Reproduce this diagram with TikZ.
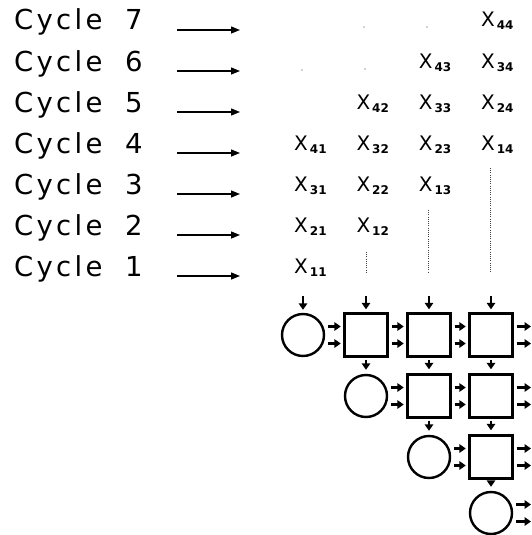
\documentclass[tikz,border=0pt]{standalone}
\usepackage{fontspec}
\setmainfont{DejaVu Sans}
\newfontfamily\cycfont[LetterSpace=12]{DejaVu Sans}
\usetikzlibrary{arrows.meta}
\newcommand\xlab[1]{{\fontsize{20}{20}\selectfont X}\kern2pt\raisebox{-3pt}{\fontsize{12}{12}\selectfont\bfseries #1}}
\newcommand\cyclab[1]{\makebox[111pt][l]{Cycle}#1}
\begin{document}
\begin{tikzpicture}[x=1pt,y=-1pt,
  cyc/.style={font=\cycfont\fontsize{27.5}{27.5}\selectfont, inner sep=0, anchor=base west},
  xl/.style={inner sep=0, anchor=base west},
  cell/.style={draw, line width=2.4pt, inner sep=0},
  sq/.style={cell, rectangle, minimum size=43pt},
  pe/.style={cell, circle, minimum size=42pt},
  arr/.style={line width=2.2pt, -{Triangle[length=6.5pt,width=8.5pt]}},
  carr/.style={line width=1.4pt, -{Triangle[length=9pt,width=7pt]}},
  dots/.style={line width=1pt, dash pattern=on 1pt off 1.2pt, black!75},
  speck/.style={fill=black!35}]
\useasboundingbox (0,0) rectangle (531,535);

% cycle labels and arrows
\foreach \k in {1,...,7}{
  \pgfmathsetmacro\yb{30+41*(7-\k)}
  \node[cyc] (cy\k) at (14,\yb) {\cyclab{\k}};
  \coordinate (as\k) at (177,\yb);
  \coordinate (ae\k) at (240,\yb);
  \draw[carr] (as\k) -- (ae\k);
}

% X labels
\foreach \i in {1,...,4}{\foreach \j in {1,...,4}{
  \pgfmathsetmacro\yb{27+41*(8-\i-\j)}
  \pgfmathsetmacro\xx{294+62.3*(\j-1)}
  \node[xl] (x\i\j) at (\xx,\yb) {\xlab{\i\j}};
}}

% faint specks
\fill[speck] (364,27) circle (0.8);
\fill[speck] (427,27) circle (0.8);
\fill[speck] (302,70) circle (0.8);
\fill[speck] (365,69) circle (0.8);

% dotted columns
\coordinate (d2a) at (366,252); \coordinate (d2b) at (366,272);
\coordinate (d3a) at (428,210); \coordinate (d3b) at (428,272);
\coordinate (d4a) at (490,168); \coordinate (d4b) at (490,272);
\draw[dots] (d2a) -- (d2b);
\draw[dots] (d3a) -- (d3b);
\draw[dots] (d4a) -- (d4b);

% processing array
\node[pe] (c11) at (303,335) {};
\node[sq] (c12) at (366,335) {};
\node[sq] (c13) at (429,335) {};
\node[sq] (c14) at (491,335) {};
\node[pe] (c22) at (366,396) {};
\node[sq] (c23) at (429,396) {};
\node[sq] (c24) at (491,396) {};
\node[pe] (c33) at (429,457) {};
\node[sq] (c34) at (491,457) {};
\node[pe] (c44) at (491,513) {};

% inputs from above
\foreach \c/\x in {11/303,12/366,13/429,14/491}{
  \coordinate (in\c) at (\x,296);
  \draw[arr, shorten >=3pt] (in\c) -- (c\c.north);
}
% vertical flow
\foreach \a/\b in {12/22,13/23,14/24,23/33,24/34,34/44}{
  \draw[arr, shorten <=2pt, shorten >=4pt] (c\a.south) -- (c\b.north);
}
% horizontal flow
\foreach \a/\b in {11/12,12/13,13/14,22/23,23/24,33/34}{
  \draw[arr, shorten <=3pt, shorten >=2.5pt] ([yshift=8.5pt]c\a.east) -- ([yshift=8.5pt]c\b.west);
  \draw[arr, shorten <=3pt, shorten >=2.5pt] ([yshift=-8.5pt]c\a.east) -- ([yshift=-8.5pt]c\b.west);
}
% outputs
\foreach \a/\y in {14/335,24/396,34/457,44/513}{
  \coordinate (ou\a) at (531,\y-8.5);
  \coordinate (ol\a) at (531,\y+8.5);
  \draw[arr, shorten <=3pt] ([yshift=8.5pt]c\a.east) -- (ou\a);
  \draw[arr, shorten <=3pt] ([yshift=-8.5pt]c\a.east) -- (ol\a);
}
\end{tikzpicture}
\end{document}
